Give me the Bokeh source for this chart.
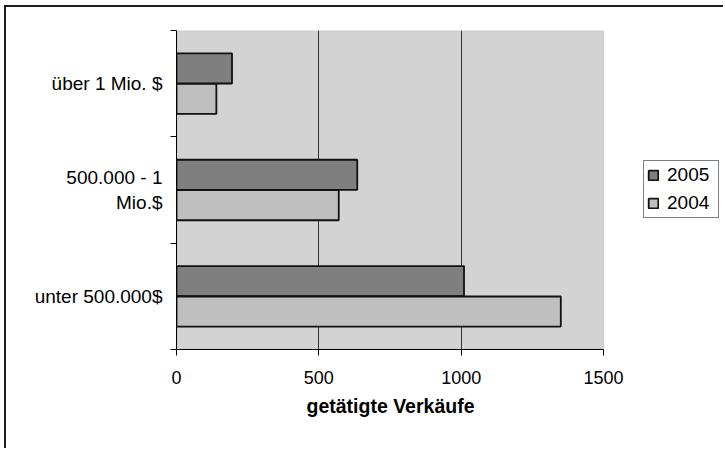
from bokeh.plotting import figure
from bokeh.models import Range1d, FixedTicker, Legend, LegendItem, ColumnDataSource, BoxAnnotation, Title
from bokeh.transform import dodge
from bokeh.embed import file_html
from bokeh.resources import INLINE

# Data (bottom to top)
categories = ["unter 500.000$", "500.000 - 1\nMio.$", "über 1 Mio. $"]
sales_2005 = [1010, 635, 195]
sales_2004 = [1350, 570, 140]
x_ticks = [0, 500, 1000, 1500]
x_max = 1500
x_title = "getätigte Verkäufe"

FONT = "Liberation Sans"

# layout (pixels): plot area 427 px wide, extra room to the right for the legend
AREA_W, FRAME_W = 427, 549

pos = [i + 0.5 for i in range(len(categories))]
src = ColumnDataSource(dict(pos=pos, v2005=sales_2005, v2004=sales_2004))

p = figure(width=719, height=443, output_backend="svg", toolbar_location=None,
           x_range=Range1d(0, x_max * FRAME_W / AREA_W), y_range=Range1d(0, len(categories)),
           min_border_left=170, min_border_top=23, min_border_right=0, min_border_bottom=101)

p.background_fill_color = "white"
p.border_fill_color = "white"
p.outline_line_color = None

area = BoxAnnotation(left=0, right=x_max, bottom=0, top=len(categories),
                     fill_color="#d3d3d3", fill_alpha=1,
                     line_color="#9a9a9a", line_width=1.5, level="image")
p.add_layout(area)

r05 = p.hbar(y=dodge("pos", 0.143, range=p.y_range), right="v2005", left=0, height=0.283, source=src,
             fill_color="#7f7f7f", line_color="#111111", line_width=1.8)
r04 = p.hbar(y=dodge("pos", -0.143, range=p.y_range), right="v2004", left=0, height=0.283, source=src,
             fill_color="#bfbfbf", line_color="#111111", line_width=1.8)

# x axis
xa = p.xaxis[0]
xa.ticker = FixedTicker(ticks=x_ticks)
xa.bounds = (0, x_max)
xa.axis_line_color = "black"
xa.major_tick_out = 6
xa.major_tick_in = 0
xa.minor_tick_out = 0
xa.major_label_text_font = FONT
xa.major_label_text_font_size = "18px"
xa.major_label_text_color = "black"
xa.major_label_standoff = 15

# axis title centred under the plot area (not the wider frame)
t = Title(text=x_title, align="left", offset=130, standoff=13,
          text_font=FONT, text_font_size="19.5px", text_font_style="bold", text_color="black")
p.add_layout(t, "below")

# y axis
ya = p.yaxis[0]
ya.ticker = FixedTicker(ticks=pos, minor_ticks=list(range(len(categories) + 1)))
ya.major_label_overrides = {pp: c for pp, c in zip(pos, categories)}
ya.axis_line_color = "black"
ya.major_tick_out = 0
ya.major_tick_in = 0
ya.minor_tick_out = 6
ya.minor_tick_in = 0
ya.minor_tick_line_color = "black"
ya.major_label_text_font = FONT
ya.major_label_text_font_size = "19px"
ya.major_label_text_color = "black"
ya.major_label_standoff = 8

p.xgrid.ticker = FixedTicker(ticks=x_ticks[1:-1])
p.xgrid.grid_line_color = "#333333"
p.xgrid.grid_line_width = 1
p.ygrid.grid_line_color = None

legend = Legend(items=[LegendItem(label="2005", renderers=[r05]),
                       LegendItem(label="2004", renderers=[r04])],
                location=(467, 131))
legend.label_text_font = FONT
legend.label_text_font_size = "19px"
legend.label_text_color = "black"
legend.border_line_color = "black"
legend.border_line_width = 1
legend.background_fill_color = "white"
legend.background_fill_alpha = 1
legend.glyph_width = 12
legend.glyph_height = 12
legend.label_height = 19
legend.label_width = 48
legend.label_standoff = 8
legend.padding = 3
legend.spacing = 6
legend.margin = 0
p.add_layout(legend, "center")

p.styles = {"margin-left": "4px", "margin-top": "5px",
            "border-left": "2px solid #1e1e1e", "border-top": "2px solid #1e1e1e"}

open("out.html", "w").write(file_html(p, INLINE))
